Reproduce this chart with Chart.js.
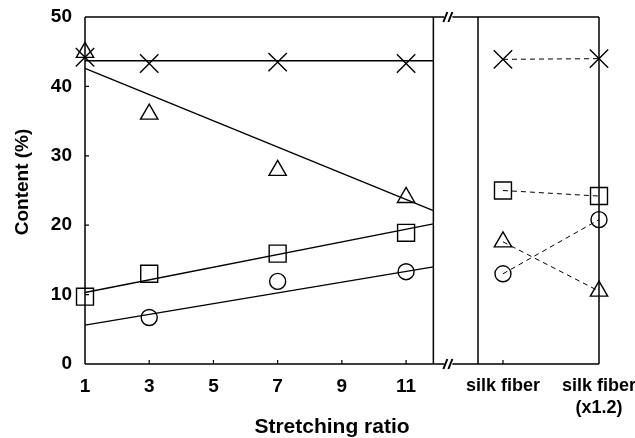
<!DOCTYPE html>
<html>
<head>
<meta charset="utf-8">
<script src="https://cdn.jsdelivr.net/npm/chart.js@4/dist/chart.umd.min.js"></script>
<style>
  html, body { margin: 0; padding: 0; background: #fff; }
  #wrap { width: 635px; height: 438px; }
</style>
</head>
<body>
<div id="wrap"><canvas id="chart" width="635" height="438"></canvas></div>
<script>
// Left panel: content vs. stretching ratio
const ratios = [1, 3, 7, 11];
const crossVals = [44.2, 43.3, 43.5, 43.3];
const triVals = [44.9, 36.0, 27.9, 24.0];
const squareVals = [9.7, 13.0, 15.9, 18.9];
const circleVals = [null, 6.7, 11.9, 13.3];

// Fitted trend lines (start / end of the left panel)
const leftPanelMax = 11.85;
const trendX = [1, leftPanelMax];
const crossTrend = [43.7, 43.7];
const triTrend = [42.6, 22.1];
const squareTrend = [10.3, 20.2];
const circleTrend = [5.6, 14.0];

// Right panel: silk fibers
const fiberLabels = [['silk fiber'], ['silk fiber', '(x1.2)']];
const fiberCross = [43.9, 44.0];
const fiberSquare = [25.0, 24.2];
const fiberTri = [17.6, 10.5];
const fiberCircle = [13.0, 20.8];

// Axis ticks
const yTicks = [0, 10, 20, 30, 40, 50];
const ratioTicks = [1, 3, 5, 7, 9, 11];

const FONT = "'Liberation Sans', Arial, sans-serif";
Chart.defaults.color = '#000';
Chart.defaults.font.family = FONT;

const toPoints = (xs, ys) => xs.map((x, i) => ({ x, y: ys[i] })).filter(p => p.y !== null);

const marker = (style, radius) => ({
  pointStyle: style,
  pointRadius: radius,
  pointHoverRadius: radius,
  pointBorderColor: '#000',
  pointBackgroundColor: 'rgba(0,0,0,0)',
  pointBorderWidth: 1.4,
});

const scatterSet = (data, style, radius, xAxisID) => Object.assign({
  data, xAxisID, yAxisID: 'y', showLine: false, clip: false, borderColor: '#000',
}, marker(style, radius));

const trendSet = (ys) => ({
  data: toPoints(trendX, ys), xAxisID: 'x', yAxisID: 'y', showLine: true,
  borderColor: '#000', borderWidth: 1.4, pointRadius: 0, clip: false,
});

const fiberSet = (ys, style, radius) => Object.assign({
  data: ys.map((y, i) => ({ x: i + 1, y })), xAxisID: 'x2', yAxisID: 'y', showLine: true,
  borderColor: '#000', borderWidth: 1, borderDash: [5, 4], clip: false,
}, marker(style, radius));

// Panel borders, axis break marks and inward tick marks
const framePlugin = {
  id: 'frame',
  beforeDatasetsDraw(chart) {
    const { ctx, chartArea: a, scales: { x, x2, y } } = chart;
    const edgeL = x.getPixelForValue(leftPanelMax);
    const edgeR = x2.left;
    const brk = edgeL + 15;
    ctx.save();
    ctx.strokeStyle = '#000';
    ctx.lineWidth = 1.5;
    ctx.beginPath();
    // top and bottom lines with a gap for the break
    [a.top, a.bottom].forEach(py => {
      ctx.moveTo(a.left, py); ctx.lineTo(brk - 4, py);
      ctx.moveTo(brk + 4, py); ctx.lineTo(a.right, py);
    });
    // vertical edges
    ctx.moveTo(a.left, a.top); ctx.lineTo(a.left, a.bottom);
    ctx.moveTo(edgeL, a.top); ctx.lineTo(edgeL, a.bottom);
    ctx.moveTo(edgeR, a.top); ctx.lineTo(edgeR, a.bottom);
    ctx.moveTo(a.right, a.top); ctx.lineTo(a.right, a.bottom);
    ctx.stroke();

    // break marks
    ctx.lineWidth = 2;
    ctx.beginPath();
    [a.top, a.bottom].forEach(py => {
      ctx.moveTo(brk - 5, py + 5); ctx.lineTo(brk - 1, py - 5);
      ctx.moveTo(brk, py + 5); ctx.lineTo(brk + 4, py - 5);
    });
    ctx.stroke();

    // inward ticks
    ctx.lineWidth = 1.2;
    ctx.beginPath();
    yTicks.slice(1, -1).forEach(v => {
      const py = y.getPixelForValue(v);
      ctx.moveTo(a.left, py); ctx.lineTo(a.left + 4, py);
    });
    ratioTicks.slice(1).forEach(v => {
      const px = x.getPixelForValue(v);
      ctx.moveTo(px, a.bottom); ctx.lineTo(px, a.bottom - 4);
    });
    const px1 = x2.getPixelForValue(1);
    ctx.moveTo(px1, a.bottom); ctx.lineTo(px1, a.bottom - 4);
    ctx.stroke();
    ctx.restore();
  }
};

// Axis titles
const titlePlugin = {
  id: 'axisTitles',
  afterDraw(chart) {
    const { ctx } = chart;
    ctx.save();
    ctx.fillStyle = '#000';
    ctx.textAlign = 'center';
    ctx.textBaseline = 'middle';
    ctx.font = `bold 21px ${FONT}`;
    ctx.fillText('Stretching ratio', 332, 427);
    ctx.translate(23, 182);
    ctx.rotate(-Math.PI / 2);
    ctx.font = `bold 19px ${FONT}`;
    ctx.fillText('Content (%)', 0, 0);
    ctx.restore();
  }
};

const numFont = { size: 19, weight: 'bold', family: FONT, lineHeight: 1.17 };
const catFont = { size: 18, weight: 'bold', family: FONT, lineHeight: 1.17 };

new Chart(document.getElementById('chart'), {
  type: 'scatter',
  data: {
    datasets: [
      trendSet(crossTrend),
      trendSet(triTrend),
      trendSet(squareTrend),
      trendSet(circleTrend),
      scatterSet(toPoints(ratios, crossVals), 'crossRot', 13, 'x'),
      scatterSet(toPoints(ratios, triVals), 'triangle', 10, 'x'),
      scatterSet(toPoints(ratios, squareVals), 'rect', 12, 'x'),
      scatterSet(toPoints(ratios, circleVals), 'circle', 8, 'x'),
      fiberSet(fiberCross, 'crossRot', 13),
      fiberSet(fiberTri, 'triangle', 10),
      fiberSet(fiberSquare, 'rect', 12),
      fiberSet(fiberCircle, 'circle', 8),
    ]
  },
  options: {
    responsive: false,
    animation: false,
    events: [],
    layout: { autoPadding: false, padding: { left: 0, top: 17, right: 36, bottom: 0 } },
    plugins: { legend: { display: false }, tooltip: { enabled: false } },
    scales: {
      y: {
        type: 'linear', position: 'left', min: 0, max: 50,
        afterBuildTicks(s) { s.ticks = yTicks.map(v => ({ value: v })); },
        ticks: { padding: 13, font: numFont, color: '#000' },
        grid: { display: false, drawTicks: false },
        border: { display: false },
        afterFit(s) { s.width = 85; s.paddingTop = 0; s.paddingBottom = 0; }
      },
      x: {
        type: 'linear', position: 'bottom', stack: 'xs', stackWeight: 393,
        min: 1, max: 13.24,
        afterBuildTicks(s) { s.ticks = ratioTicks.map(v => ({ value: v })); },
        ticks: { padding: 12, font: numFont, color: '#000', autoSkip: false, maxRotation: 0 },
        grid: { display: false, drawTicks: false },
        border: { display: false },
        afterFit(s) { s.height = 74; s.paddingLeft = 0; s.paddingRight = 0; }
      },
      x2: {
        type: 'linear', position: 'bottom', stack: 'xs', stackWeight: 121,
        min: 0.74, max: 2,
        afterBuildTicks(s) { s.ticks = fiberLabels.map((_, i) => ({ value: i + 1 })); },
        ticks: {
          padding: 12, font: catFont, color: '#000', autoSkip: false, maxRotation: 0,
          callback: v => fiberLabels[Math.round(v) - 1]
        },
        grid: { display: false, drawTicks: false },
        border: { display: false },
        afterFit(s) { s.height = 74; s.paddingLeft = 0; s.paddingRight = 0; }
      }
    }
  },
  plugins: [framePlugin, titlePlugin]
});
</script>
</body>
</html>
